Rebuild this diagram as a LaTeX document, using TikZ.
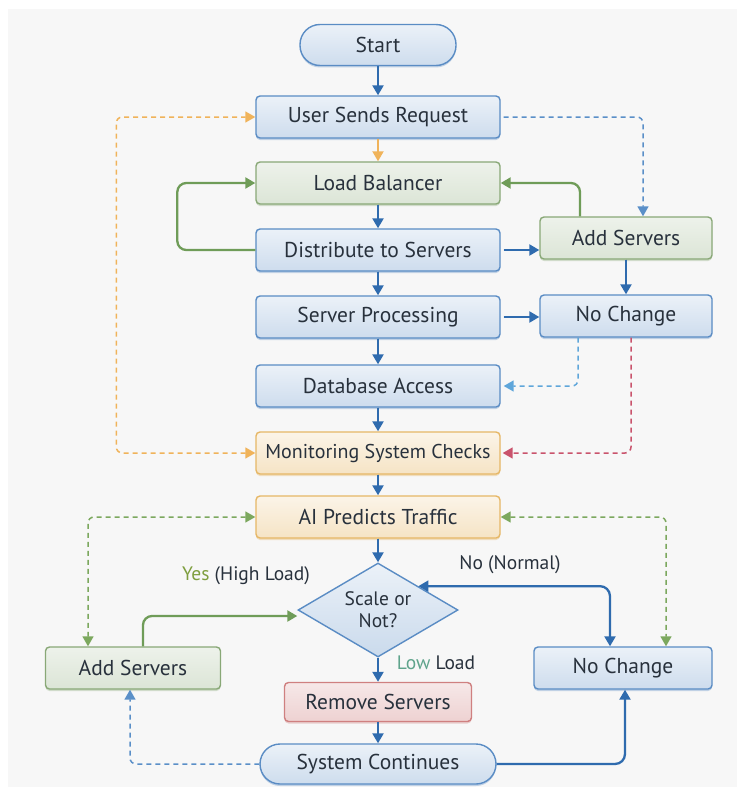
\documentclass[tikz,border=0pt]{standalone}
\usepackage{fontspec}
\setmainfont{PT Sans}
\usetikzlibrary{arrows.meta,shapes.geometric,shadows,calc}
\definecolor{bbord}{HTML}{5A8CC4}
\definecolor{gbord}{HTML}{89A877}
\definecolor{obord}{HTML}{E6B766}
\definecolor{rbord}{HTML}{CF8080}
\definecolor{txt}{HTML}{28313C}
\definecolor{arrblue}{HTML}{2F6BAE}
\definecolor{arrgreen}{HTML}{6F9C58}
\definecolor{dorange}{HTML}{F0B35A}
\definecolor{dlblue}{HTML}{5FA6DA}
\definecolor{dblue}{HTML}{5A8FC8}
\definecolor{dred}{HTML}{C9536C}
\definecolor{dgreen}{HTML}{7CA85E}
\definecolor{yesgreen}{HTML}{7E9E3E}
\definecolor{lowgreen}{HTML}{5FA48C}
\tikzset{
  box/.style={rectangle, rounded corners=4pt, minimum width=244pt, minimum height=42pt, inner sep=0pt, line width=1.4pt, text=txt, font=\fontsize{21.5}{24}\selectfont},
  bluebox/.style={box, draw=bbord, top color=bbord!12!white, bottom color=bbord!30!white, drop shadow={shadow xshift=0pt, shadow yshift=-2pt, fill=bbord, opacity=0.35}},
  greenbox/.style={box, draw=gbord, top color=gbord!15!white, bottom color=gbord!30!white, drop shadow={shadow xshift=0pt, shadow yshift=-2pt, fill=gbord, opacity=0.35}},
  orangebox/.style={box, draw=obord, top color=obord!15!white, bottom color=obord!38!white, drop shadow={shadow xshift=0pt, shadow yshift=-2pt, fill=obord, opacity=0.4}},
  redbox/.style={box, draw=rbord, top color=rbord!18!white, bottom color=rbord!36!white, drop shadow={shadow xshift=0pt, shadow yshift=-2pt, fill=rbord, opacity=0.35}},
  stadium/.style={bluebox, rounded corners=20pt},
  tip/.style={-{Triangle[length=10pt,width=11pt]}},
  both/.style={{Triangle[length=10pt,width=11pt]}-{Triangle[length=10pt,width=11pt]}},
  barr/.style={draw=arrblue, fill=arrblue, line width=2.3pt, tip},
  garr/.style={draw=arrgreen, line width=2.3pt, rounded corners=9pt},
  dsh/.style={line width=1.5pt, dash pattern=on 5pt off 4pt, rounded corners=6pt},
  lbl/.style={text=txt, font=\fontsize{19.5}{22}\selectfont}
}
\begin{document}
\begin{tikzpicture}[x=1pt,y=-1pt]
\useasboundingbox (0,0) rectangle (737,792);
\fill[white] (0,0) rectangle (737,792);
\fill[black!3] (8,9) rectangle (737,787);

% nodes
\node[stadium, minimum width=156pt, minimum height=41pt] (start) at (378,45) {Start};
\node[bluebox] (user) at (378,117) {User Sends Request};
\node[greenbox] (lb) at (378,183) {Load Balancer};
\node[bluebox] (dist) at (378,250) {Distribute to Servers};
\node[greenbox, minimum width=172pt] (addR) at (626,238) {Add Servers};
\node[bluebox] (sp) at (378,317) {Server Processing};
\node[bluebox, minimum width=172pt] (ncR) at (626,316) {No Change};
\node[bluebox] (db) at (378,386) {Database Access};
\node[orangebox, font=\fontsize{20}{23}\selectfont] (mon) at (378,453) {Monitoring System Checks};
\node[orangebox] (ai) at (378,517) {AI Predicts Traffic};
\node[diamond, draw=bbord, line width=1.4pt, top color=bbord!12!white, bottom color=bbord!32!white, minimum width=160pt, minimum height=94pt, aspect=1.7, inner sep=0pt, align=center, text=txt, font=\fontsize{19.5}{22}\selectfont] (dia) at (378,610) {Scale or\\Not?};
\node[greenbox, minimum width=175pt] (addL) at (133,668) {Add Servers};
\node[bluebox, minimum width=178pt] (ncL) at (623,668) {No Change};
\node[redbox, minimum width=187pt, minimum height=39pt] (rem) at (378,702) {Remove Servers};
\node[stadium, minimum width=236pt, minimum height=40pt] (sys) at (378,764) {System Continues};

% main vertical flow
\draw[barr] (start) -- (user);
\draw[draw=dorange, line width=2pt, tip] (user) -- (lb);
\draw[barr] (lb) -- (dist);
\draw[barr] (dist) -- (sp);
\draw[barr] (sp) -- (db);
\draw[barr] (db) -- (mon);
\draw[barr] (mon) -- (ai);
\draw[barr] (ai) -- (dia);
\draw[barr] (dia) -- (rem);
\draw[barr] (rem) -- (sys);

% right column
\draw[barr] ([xshift=3pt]dist.east) -- (dist.east -| addR.west);
\draw[barr] ([xshift=3pt]sp.east) -- (sp.east -| ncR.west);
\draw[barr] (addR) -- (ncR);

% green loops
\draw[garr, tip] (dist.west) -- ++(-78,0) |- (lb.west);
\draw[garr, tip] ([xshift=-46pt]addR.north) |- (lb.east);

% dashed connectors
\draw[dsh, draw=dblue, tip] ([xshift=3pt]user.east) -| ([xshift=17pt]addR.north);
\draw[dsh, draw=dorange, both] (mon.west) -- ++(-139,0) |- (user.west);
\draw[dsh, draw=dlblue, tip] ([xshift=-48pt]ncR.south) |- ([xshift=3pt]db.east);
\draw[dsh, draw=dred, tip] ([xshift=5pt]ncR.south) |- ([xshift=2pt]mon.east);
\draw[dsh, draw=dgreen, both] (ai.west) -| ([xshift=-45pt]addL.north);
\draw[dsh, draw=dgreen, both] (ai.east) -| ([xshift=43pt]ncL.north);

% decision branches
\draw[garr, tip] ([xshift=10pt]addL.north) |- ([yshift=-6pt]dia.west);
\draw[draw=arrblue, line width=2.3pt, rounded corners=10pt, both] ([xshift=-13pt]ncL.north) |- (dia.north east);
\draw[dsh, draw=dblue, tip] (sys.west) -| ([xshift=-3pt]addL.south);
\draw[draw=arrblue, line width=2.3pt, rounded corners=10pt, tip] (sys.east) -| ([xshift=2pt]ncL.south);

% labels
\node[lbl] (yeslbl) at (246,576) {\textcolor{yesgreen}{Yes} (High Load)};
\node[lbl] (nolbl) at (510,565) {No (Normal)};
\node[lbl] (lowlbl) at (436,663) {\textcolor{lowgreen}{Low} Load};
\end{tikzpicture}
\end{document}
